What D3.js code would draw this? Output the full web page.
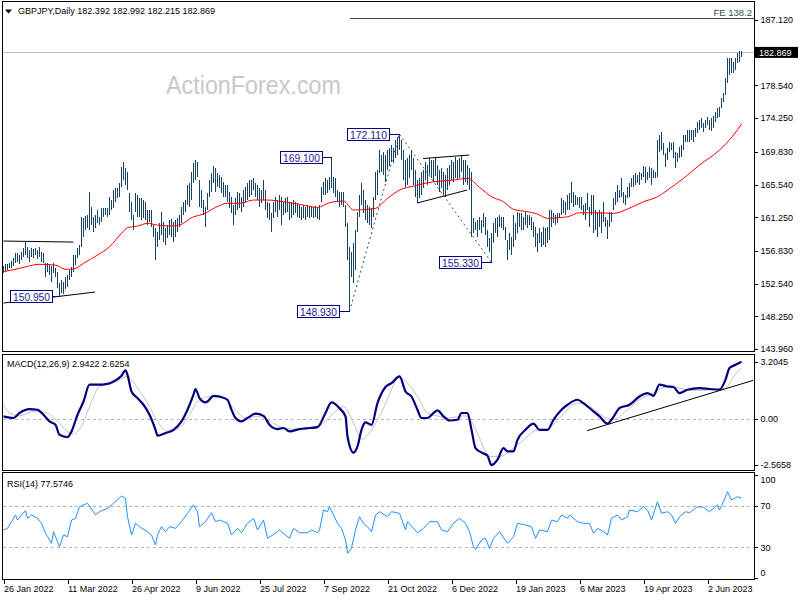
<!DOCTYPE html>
<html><head><meta charset="utf-8">
<script src="https://cdn.jsdelivr.net/npm/d3@7"></script>
<style>
body{margin:0;background:#fff}
svg{display:block}
text{font-family:"Liberation Sans",Arial,sans-serif;}
</style></head>
<body><svg id="c" width="800" height="600"></svg>
<script>
// ---------------- DATA ----------------
const symbol = "GBPJPY,Daily";
const lastOHLC = [182.392, 182.992, 182.215, 182.869];
const highs = [
154.84,155.10,155.10,155.23,155.50,155.89,156.55,156.55,156.28,156.68,
157.20,157.99,157.33,156.94,157.20,157.07,157.20,156.94,157.33,156.68,
156.55,155.23,155.23,154.97,154.84,155.23,154.58,154.05,152.61,153.00,
152.74,153.40,153.66,154.32,154.71,156.28,156.28,157.20,157.60,161.27,
161.14,161.40,161.53,164.55,162.58,161.27,161.53,162.19,161.27,162.45,
162.45,162.45,162.45,163.89,163.50,164.81,165.07,165.07,165.73,167.83,
168.49,167.70,167.17,164.42,163.24,161.53,164.42,164.16,163.76,163.76,
163.50,163.24,162.19,162.19,162.19,160.22,159.83,159.30,160.48,161.93,
160.61,159.83,160.22,160.88,161.01,160.61,160.88,161.14,161.53,162.58,
163.24,163.50,165.47,165.73,167.17,168.35,168.75,168.49,166.12,164.81,
163.50,162.58,164.42,166.12,167.04,167.96,167.70,167.04,166.78,166.52,
165.86,165.47,165.47,164.55,163.89,162.84,163.76,164.55,164.42,163.89,
164.81,165.21,165.73,166.12,166.12,166.39,165.73,165.47,165.07,164.81,
166.12,164.81,163.24,163.11,161.79,163.24,163.89,163.50,164.16,163.89,
163.24,163.76,163.89,163.11,163.24,163.50,163.24,163.11,162.84,162.58,
162.84,162.58,162.84,162.71,162.58,162.58,162.71,162.58,162.84,165.21,
165.86,166.39,166.12,166.52,169.10,166.52,166.39,164.81,164.55,164.55,
164.55,162.84,160.48,157.33,156.68,157.86,159.56,161.93,164.16,165.73,
164.81,163.50,162.84,162.58,162.45,163.89,167.17,167.44,170.06,169.40,
169.80,169.40,170.06,170.32,170.72,170.32,171.37,171.77,172.11,171.37,
170.06,168.75,169.01,169.40,170.06,169.01,167.44,166.12,166.39,167.17,
167.44,168.49,168.09,169.01,168.75,168.75,169.01,168.09,167.44,167.70,
167.17,166.78,167.70,168.09,168.75,168.49,169.14,168.75,169.01,169.40,
168.75,168.75,168.09,167.70,167.17,161.14,160.61,160.88,161.27,160.88,
161.79,161.27,159.56,158.51,159.17,160.48,161.14,161.27,161.53,161.27,
161.27,159.96,158.25,159.17,158.65,161.53,160.48,161.93,161.79,161.79,
161.27,161.93,161.53,161.53,161.27,160.61,159.96,159.17,159.83,159.30,
159.96,159.83,159.96,162.19,162.19,161.79,161.53,161.79,161.79,163.76,
163.50,163.24,164.16,164.42,165.86,164.55,164.16,163.89,163.89,163.89,
162.84,163.11,164.42,162.58,164.16,164.16,162.19,161.93,162.19,161.93,
163.24,161.27,160.88,161.93,161.93,163.76,164.55,165.47,164.81,166.39,
164.55,164.16,165.21,165.73,166.39,166.78,167.04,166.78,167.17,167.04,
167.96,167.83,167.17,167.83,167.70,167.44,167.17,171.37,172.03,172.42,
170.98,169.67,170.32,171.11,170.98,171.11,169.80,169.67,170.45,170.72,
172.03,172.03,172.68,172.68,172.68,172.68,172.95,173.73,174.00,174.26,
173.60,174.00,174.39,174.00,174.26,174.52,175.05,175.57,175.70,176.88,
177.54,179.51,182.13,182.13,182.13,181.61,182.13,182.79,183.05,182.99];
const lows = [
153.92,154.18,154.32,154.58,154.58,154.84,155.23,155.37,155.10,155.63,
156.02,156.28,155.89,155.37,156.02,155.89,156.28,155.76,156.02,155.37,
155.23,153.40,154.05,153.66,152.74,153.92,153.40,151.95,150.95,151.30,
151.17,151.82,152.09,153.00,153.40,154.05,154.97,155.89,156.28,157.33,
158.65,159.56,159.83,159.56,160.22,159.30,159.83,160.48,160.22,160.61,
161.27,161.53,161.27,161.53,162.19,162.45,163.24,163.76,163.89,165.21,
166.12,165.47,164.81,161.93,160.88,159.56,161.93,161.27,161.27,160.88,
161.14,160.88,160.22,160.61,159.96,158.65,155.63,157.33,158.25,158.91,
157.99,157.60,158.51,158.91,158.65,157.99,158.65,159.30,159.96,160.48,
161.53,161.93,162.84,162.58,163.50,165.73,166.12,166.52,162.58,162.45,
161.53,159.96,162.19,163.89,164.55,165.73,164.55,165.21,165.07,164.42,
163.89,163.89,163.24,162.45,161.79,160.22,161.53,162.19,162.45,161.93,
162.58,163.11,163.50,163.89,164.16,164.81,163.89,163.50,162.58,163.11,
163.50,162.19,161.14,160.88,159.30,161.14,161.93,161.27,162.19,160.22,
161.53,161.79,161.93,160.88,161.14,161.53,161.79,161.27,161.14,160.88,
161.14,160.88,161.27,161.14,161.27,161.14,161.27,161.01,160.88,163.24,
164.16,164.16,164.42,164.81,165.07,164.42,163.89,163.24,162.58,162.84,
162.58,159.96,155.63,148.93,153.40,152.61,154.32,159.30,161.27,162.84,
161.79,160.88,160.48,160.22,159.83,161.27,163.50,164.16,167.04,167.17,
166.78,165.86,167.44,167.96,168.49,168.35,169.01,169.40,170.06,168.75,
166.12,165.21,165.47,166.39,167.44,165.47,163.89,163.11,163.76,164.16,
165.07,166.12,165.47,166.78,166.39,165.86,166.65,165.47,164.55,165.07,
164.16,163.89,164.81,165.47,166.12,165.86,166.39,166.12,166.39,167.17,
165.47,165.86,165.47,164.81,158.65,159.17,159.56,158.65,159.56,159.17,
159.96,158.91,157.33,156.68,155.33,157.86,159.17,158.65,159.96,159.83,
159.56,158.25,155.63,156.94,156.28,157.33,158.25,159.17,159.96,159.56,
159.56,160.22,159.83,160.22,159.56,158.65,157.33,156.68,157.86,157.33,
157.60,157.33,157.86,158.25,159.96,160.48,160.22,160.48,161.14,161.53,
161.79,161.53,162.19,162.19,163.11,162.58,162.84,162.84,162.45,162.19,
161.53,160.88,162.19,159.96,161.53,159.17,159.56,158.65,159.96,159.17,
160.61,159.96,158.38,159.96,160.61,162.19,162.84,163.24,163.76,163.89,
163.11,162.84,163.76,163.89,165.21,165.21,165.47,165.73,165.47,166.12,
166.52,165.73,166.12,166.39,165.47,166.39,166.39,166.52,169.80,170.06,
169.40,167.83,168.75,169.80,170.06,169.01,167.70,168.49,169.01,169.14,
170.06,171.11,171.11,171.11,171.37,171.11,171.77,172.29,172.68,172.95,
172.42,172.95,173.34,172.68,172.55,172.95,173.73,174.26,174.39,175.57,
176.36,177.28,178.85,179.90,180.16,180.16,180.56,181.47,181.61,182.22];

// moving average (read at sampled bars)
const maIdx = [0,8,18,26,31,35,40,47,53,59,62,67,72,77,83,88,95,100,106,112,118,125,132,140,148,157,163,170,175,182,186,192,198,205,215,225,232,238,244,250,255,262,267,272,282,288,297,305,312,320,327,332,340,348,358,365,369];
const maVal = [154.09,154.54,155.07,154.97,154.41,154.45,155.20,156.28,157.37,159.13,159.87,160.09,160.44,160.22,160.09,160.22,161.31,161.66,162.54,163.07,163.07,163.50,163.50,163.28,162.94,162.54,163.15,163.37,162.19,162.28,162.41,163.72,164.81,165.34,165.90,166.12,166.35,165.17,163.93,163.28,162.28,161.97,161.66,161.10,161.31,161.83,161.83,161.75,162.32,163.28,163.93,164.81,166.35,168.09,170.06,172.03,173.47];

// MACD main line and signal (sampled)
const macdIdx = [0,5,8,13,17,20,23,26,28,32,34,37,40,43,47,52,56,59,61,62,64,67,70,73,76,77,81,85,89,92,95,96,98,101,102,105,108,112,114,116,119,122,126,130,133,137,140,143,148,153,157,161,164,168,171,172,175,177,179,181,184,187,191,194,198,201,204,207,209,212,215,217,220,223,227,229,232,234,236,239,242,244,247,250,252,255,257,261,265,268,272,275,279,282,287,290,294,298,302,304,308,313,318,322,325,328,332,335,338,342,348,353,358,361,363,366,369];
const macdVal = [0.15,0.06,0.34,0.56,0.52,0.24,-0.13,-0.32,-0.88,-1.01,-0.69,0.24,0.98,1.92,1.92,1.97,2.16,2.42,2.72,2.47,1.54,1.17,0.80,0.24,-0.60,-0.93,-0.78,-0.60,-0.13,0.52,1.36,1.68,1.17,0.93,0.98,1.30,1.26,1.08,0.52,0.06,-0.13,0.06,0.30,0.18,-0.32,-0.56,-0.50,-0.69,-0.56,-0.50,-0.45,0.34,0.93,0.61,0.15,-0.97,-1.87,-1.53,-0.60,-0.19,-0.32,0.89,1.79,2.01,2.38,1.54,1.26,0.52,0.06,0.06,0.34,0.48,0.15,-0.08,-0.04,0.34,0.34,-0.60,-1.62,-1.87,-2.05,-2.57,-2.27,-1.62,-1.81,-1.81,-1.16,-0.60,-0.26,-0.60,-0.60,-0.04,0.52,0.80,1.08,0.89,0.52,0.15,-0.26,-0.04,0.61,0.80,1.26,1.45,1.30,1.92,1.82,1.79,1.45,1.64,1.73,1.68,1.64,2.20,2.85,3.03,3.20];
const sigIdx = [0,3,8,15,22,27,32,35,39,43,48,55,62,67,72,77,82,88,93,98,103,110,115,121,127,132,138,145,153,159,165,170,175,179,183,190,198,202,207,212,217,223,230,234,238,243,248,255,260,267,272,278,287,293,300,305,312,318,325,332,338,345,355,361,365,369];
const sigVal = [0.80,0.34,0.18,0.42,0.34,-0.13,-0.69,-0.82,-0.41,0.70,1.82,2.01,2.38,1.73,0.89,-0.13,-0.69,-0.50,0.24,1.08,1.26,1.17,0.61,0.06,0.15,-0.04,-0.41,-0.56,-0.50,-0.32,0.34,0.70,-0.22,-1.12,-0.78,0.61,2.29,2.01,1.26,0.34,0.18,0.06,0.18,-0.13,-1.06,-2.09,-2.09,-1.62,-1.16,-0.60,-0.56,0.06,0.89,0.70,0.15,-0.04,0.52,1.08,1.45,1.82,1.73,1.60,1.64,1.73,2.38,2.85];
const macdLast = [2.9422, 2.6254];
const macdTicks = [3.2045, 0, -2.5658];

// RSI (sampled)
const rsiIdx = [0,2,6,7,9,11,12,14,17,19,21,22,24,25,27,28,30,32,34,36,38,40,42,43,46,48,52,55,57,59,61,62,64,66,68,72,74,76,77,79,81,83,86,89,92,95,97,98,101,104,106,108,112,114,117,119,122,125,127,130,132,136,138,141,143,145,148,152,154,157,158,160,162,163,165,167,169,171,172,174,176,178,180,182,184,186,188,192,194,198,201,202,207,210,213,217,219,222,225,228,231,233,235,236,239,241,243,245,248,252,255,257,261,264,266,268,272,274,277,279,282,283,287,290,293,295,297,300,302,304,307,309,312,313,317,320,322,324,327,329,332,334,336,338,341,343,347,350,353,357,358,360,362,364,367,369];
const rsiVal = [46.8,48.4,61.3,56.4,61.3,65.4,58.1,61.3,58.1,53.2,43.6,40.3,33.9,45.1,35.4,30.6,41.9,40.3,56.4,58.1,69.3,71.0,72.6,70.0,61.3,64.5,67.8,72.6,75.8,79.7,77.4,59.6,41.9,53.2,50.0,45.1,41.9,32.2,41.9,50.0,45.1,50.0,48.4,54.8,62.9,71.0,64.5,50.0,54.8,63.5,54.8,56.4,53.2,41.9,48.4,44.1,53.2,58.1,46.8,56.4,38.7,43.6,46.8,41.9,38.7,48.4,44.1,44.1,46.8,44.1,46.8,66.1,64.5,69.3,61.3,53.2,48.4,37.1,24.2,29.0,46.8,59.6,53.2,50.0,45.1,61.3,64.5,59.6,64.5,62.9,46.8,54.8,44.1,48.4,54.8,54.8,46.8,45.1,53.2,58.1,53.2,45.1,30.6,28.1,37.1,38.7,29.0,38.7,45.1,33.9,40.3,53.2,51.6,50.0,38.7,46.8,45.1,56.4,54.8,61.3,58.1,61.3,54.8,53.2,53.2,43.6,48.4,45.1,41.9,58.1,61.3,56.4,59.6,66.1,64.5,69.3,66.1,56.4,74.2,62.9,64.5,61.3,53.2,59.6,64.5,63.5,69.3,68.7,64.5,71.0,66.1,74.2,83.8,75.8,79.0,77.6];
const rsiLast = 77.5746;
const rsiTicks = [100, 70, 30, 0];
const rsiLevels = [70, 30];

// axes
const priceTicks = [187.12,178.54,174.25,169.83,165.54,161.25,156.83,152.54,148.25,143.96];
const dateIdx = [0,32,64,96,128,160,192,224,256,288,320,352];
const dateLabels = ["26 Jan 2022","11 Mar 2022","26 Apr 2022","9 Jun 2022","25 Jul 2022","7 Sep 2022","21 Oct 2022","6 Dec 2022","19 Jan 2023","6 Mar 2023","19 Apr 2023","2 Jun 2023"];

// annotations
const swingIdx = [28, 164, 173, 198, 244];
const swingPrice = [150.95, 169.10, 148.93, 172.11, 155.33];
const feLevel = 187.36, feLabel = "FE 138.2", feStart = 173;
const chanTop = [[0,158.12],[35,157.99]];
const chanBot = [[0,149.99],[45.8,151.43]];
const triTop = [[209.8,168.95],[232.8,169.40]];
const triBot = [[206.8,163.11],[231.8,164.81]];
const macdTrend = [[291.8,-0.65],[374.8,2.16]];

// ---------------- DRAW ----------------
const svg = d3.select('#c');
const N = highs.length;
const L = 2.5, R = 754.5;
const x = d3.scaleLinear().domain([0, N-1]).range([3.5, 3.5 + 2*(N-1)]);
const y = d3.scaleLinear().domain([143.96, 187.12]).range([349, 20]);
const ym = d3.scaleLinear().domain([-2.5658, 3.2045]).range([465, 361.7]);
const yr = d3.scaleLinear().domain([0, 100]).range([578.3, 475]);

const defs = svg.append('defs');
function clip(id,x0,y0,x1,y1){defs.append('clipPath').attr('id',id).append('rect').attr('x',x0).attr('y',y0).attr('width',x1-x0).attr('height',y1-y0);}
clip('cm',3,2,754,351); clip('cd',3,355,754,470); clip('cr',3,473,754,579);

// watermark
svg.append('text').attr('x',166).attr('y',94).attr('font-size',25).attr('fill','#c8c8c8')
  .attr('textLength',175).attr('lengthAdjust','spacingAndGlyphs').text('ActionForex.com');

// header
svg.append('path').attr('d','M5,9.5 L12,9.5 L8.5,13.5 Z').attr('fill','#000');
svg.append('text').attr('x',18).attr('y',14).attr('font-size',9).attr('fill','#000')
  .text(symbol + '  ' + lastOHLC.map(v=>v.toFixed(3)).join(' '));

const gm = svg.append('g').attr('clip-path','url(#cm)');
// current price line
gm.append('line').attr('x1',L).attr('x2',R).attr('y1',Math.round(y(lastOHLC[3]))+0.5).attr('y2',Math.round(y(lastOHLC[3]))+0.5)
  .attr('stroke','#c0c0c0').attr('shape-rendering','crispEdges');
// FE line
const feY = Math.round(y(feLevel))+0.5;
gm.append('line').attr('x1',x(feStart)).attr('x2',R).attr('y1',feY).attr('y2',feY)
  .attr('stroke','#2f4f4f').attr('shape-rendering','crispEdges');
svg.append('text').attr('x',752).attr('y',16).attr('text-anchor','end').attr('font-size',9.5).attr('fill','#2f4f4f').text(feLabel);

// bars
gm.append('g').selectAll('line').data(d3.range(N)).join('line')
  .attr('x1',i=>x(i)).attr('x2',i=>x(i))
  .attr('y1',i=>y(highs[i])).attr('y2',i=>y(lows[i]))
  .attr('stroke','#174262').attr('stroke-width',1).attr('shape-rendering','crispEdges');

// MA
gm.append('path').datum(maIdx.map((d,k)=>[d,maVal[k]]))
  .attr('d',d3.line().x(d=>x(d[0])).y(d=>y(d[1])).curve(d3.curveMonotoneX))
  .attr('fill','none').attr('stroke','#ff0000').attr('stroke-width',1);

// trend lines
const tl = d3.line().x(d=>x(d[0])).y(d=>y(d[1]));
[chanTop, chanBot, triTop, triBot].forEach(s=>{
  gm.append('path').attr('d',tl(s)).attr('stroke','#000').attr('stroke-width',1).attr('fill','none');
});
// dotted swing lines
gm.append('path').attr('d',tl([[swingIdx[2],swingPrice[2]],[swingIdx[3],swingPrice[3]]]))
  .attr('stroke','#2f4f4f').attr('stroke-dasharray','2,3').attr('fill','none');
gm.append('path').attr('d',tl([[swingIdx[3],swingPrice[3]],[swingIdx[4],swingPrice[4]]]))
  .attr('stroke','#2f4f4f').attr('stroke-dasharray','2,3').attr('fill','none');

// swing labels
const offs = [7.5,9.5,10.5,10.5,10.5];
swingIdx.forEach((si,k)=>{
  const bx = x(si), py = Math.round(y(swingPrice[k]))+0.5;
  const right = Math.round(bx - offs[k]) + 0.5, w = 42, h = 12;
  gm.append('line').attr('x1',right).attr('x2',bx).attr('y1',py).attr('y2',py).attr('stroke','#000080').attr('shape-rendering','crispEdges');
  gm.append('rect').attr('x',right-w).attr('y',py-6).attr('width',w).attr('height',h)
    .attr('fill','#fff').attr('stroke','#000080').attr('shape-rendering','crispEdges');
  gm.append('text').attr('x',right-w/2).attr('y',py+4).attr('text-anchor','middle')
    .attr('font-size',11).attr('fill','#1a1a8c').attr('textLength',37).attr('lengthAdjust','spacingAndGlyphs')
    .text(swingPrice[k].toFixed(3));
});

// MACD panel
const gd = svg.append('g').attr('clip-path','url(#cd)');
gd.append('line').attr('x1',L).attr('x2',R).attr('y1',Math.round(ym(0))+0.5).attr('y2',Math.round(ym(0))+0.5)
  .attr('stroke','#b4b4b4').attr('stroke-dasharray','3,3').attr('shape-rendering','crispEdges');
gd.append('path').datum(sigIdx.map((d,k)=>[d,sigVal[k]]))
  .attr('d',d3.line().x(d=>x(d[0])).y(d=>ym(d[1])).curve(d3.curveMonotoneX))
  .attr('fill','none').attr('stroke','#c0c0c0').attr('stroke-width',1);
gd.append('path').datum(macdIdx.map((d,k)=>[d,macdVal[k]]))
  .attr('d',d3.line().x(d=>x(d[0])).y(d=>ym(d[1])).curve(d3.curveMonotoneX))
  .attr('fill','none').attr('stroke','#000080').attr('stroke-width',2.2);
gd.append('path').attr('d',d3.line().x(d=>x(d[0])).y(d=>ym(d[1]))(macdTrend))
  .attr('stroke','#000').attr('fill','none').attr('stroke-width',1);
svg.append('text').attr('x',7).attr('y',367).attr('font-size',9).attr('fill','#000')
  .text('MACD(12,26,9) ' + macdLast.map(v=>v.toFixed(4)).join(' '));

// RSI panel
const gr = svg.append('g').attr('clip-path','url(#cr)');
rsiLevels.forEach(v=>{
  gr.append('line').attr('x1',L).attr('x2',R).attr('y1',Math.round(yr(v))+0.5).attr('y2',Math.round(yr(v))+0.5)
    .attr('stroke','#b4b4b4').attr('stroke-dasharray','3,3').attr('shape-rendering','crispEdges');
});
gr.append('path').datum(rsiIdx.map((d,k)=>[d,rsiVal[k]]))
  .attr('d',d3.line().x(d=>x(d[0])).y(d=>yr(d[1])))
  .attr('fill','none').attr('stroke','#1e90ff').attr('stroke-width',1);
svg.append('text').attr('x',7).attr('y',486.5).attr('font-size',9).attr('fill','#000')
  .text('RSI(14) ' + rsiLast.toFixed(4));

// panel borders
[[1.5,351.5],[354.5,470.5],[472.5,579.5]].forEach(([t,b])=>{
  svg.append('rect').attr('x',L).attr('y',t).attr('width',R-L).attr('height',b-t)
    .attr('fill','none').attr('stroke','#000').attr('shape-rendering','crispEdges');
});

// axes
function styleAxis(g){
  g.select('.domain').remove();
  g.selectAll('line').attr('stroke','#000').attr('shape-rendering','crispEdges');
  g.selectAll('text').attr('font-size',9).attr('fill','#000').attr('font-family','"Liberation Sans",Arial,sans-serif');
}
svg.append('g').attr('transform',`translate(${R},0)`)
  .call(d3.axisRight(y).tickValues(priceTicks).tickSize(3).tickPadding(3).tickFormat(d3.format('.3f')))
  .call(styleAxis);
// last price box
const lpY = y(lastOHLC[3]);
svg.append('rect').attr('x',755).attr('y',lpY-5.5).attr('width',43).attr('height',11).attr('fill','#000');
svg.append('text').attr('x',759).attr('y',lpY+3.2).attr('font-size',9).attr('fill','#fff').text(lastOHLC[3].toFixed(3));

svg.append('g').attr('transform',`translate(${R},0)`)
  .call(d3.axisRight(ym).tickValues(macdTicks).tickSize(3).tickPadding(3).tickFormat(d=>d===0?'0.00':d.toFixed(4)))
  .call(styleAxis);
const ra = svg.append('g').attr('transform',`translate(${R},0)`)
  .call(d3.axisRight(yr).tickValues(rsiTicks).tickSize(3).tickPadding(3).tickFormat(d3.format('d')))
  .call(styleAxis);
ra.selectAll('.tick').filter(d=>d===100).select('text').attr('transform','translate(0,5)');
ra.selectAll('.tick').filter(d=>d===0).select('text').attr('transform','translate(0,-5.5)');

const da = svg.append('g').attr('transform','translate(0,579.5)')
  .call(d3.axisBottom(x).tickValues(dateIdx).tickSize(4).tickPadding(2).tickFormat((d,k)=>dateLabels[k]))
  .call(styleAxis);
da.selectAll('text').attr('text-anchor','start').attr('dx',0);
</script>
</body></html>
